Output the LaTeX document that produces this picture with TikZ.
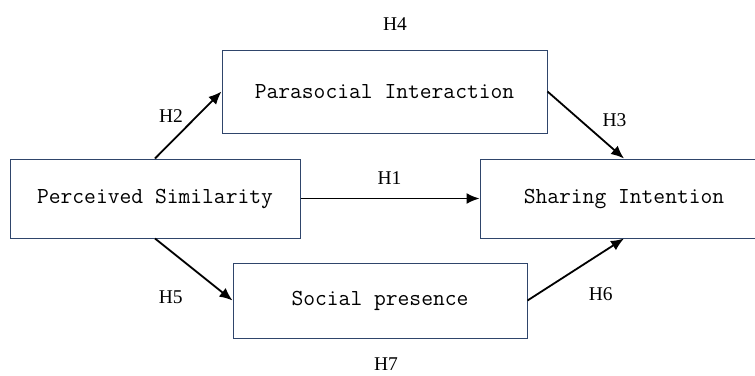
\documentclass[tikz,border=0pt]{standalone}
\usepackage{fontspec}
\usetikzlibrary{arrows.meta}
\newfontfamily\labfont{Liberation Serif}
\definecolor{boxline}{RGB}{47,69,107}
\begin{document}
\begin{tikzpicture}[x=1pt,y=-1pt,
  box/.style={draw=boxline, line width=1pt, inner sep=0pt, fill=white,
    font=\fontsize{22.9}{27}\selectfont\ttfamily},
  conn/.style={line width=1.8pt, -{Latex[length=13pt,width=11pt]}},
  hlab/.style={font=\fontsize{19.5}{22}\selectfont\labfont, inner sep=0pt}]
\clip (0,0) rectangle (755,375);
\fill[white] (0,0) rectangle (755,375);
\node[box, minimum width=325pt, minimum height=83pt] (pi) at (384.5,91.5) {Parasocial Interaction};
\node[box, minimum width=290pt, minimum height=79pt] (ps) at (155,198.5) {Perceived Similarity};
\node[box, minimum width=288pt, minimum height=79pt] (si) at (624,198.5) {Sharing Intention};
\node[box, minimum width=294pt, minimum height=75pt] (sp) at (380,300.5) {Social presence};
\draw[conn] (ps.north) -- (pi.west);
\draw[conn] (pi.east) -- (si.north);
\draw[conn] (ps.east) -- (si.west);
\draw[conn] (ps.south) -- (sp.west);
\draw[conn] (sp.east) -- (si.south);
\node[hlab] (h4) at (395,23.7) {H4};
\node[hlab] (h2) at (171,116.5) {H2};
\node[hlab] (h3) at (614.5,120) {H3};
\node[hlab] (h1) at (389.5,178) {H1};
\node[hlab] (h5) at (170.8,297.5) {H5};
\node[hlab] (h6) at (600.8,293.8) {H6};
\node[hlab] (h7) at (386,364.5) {H7};
\end{tikzpicture}
\end{document}
